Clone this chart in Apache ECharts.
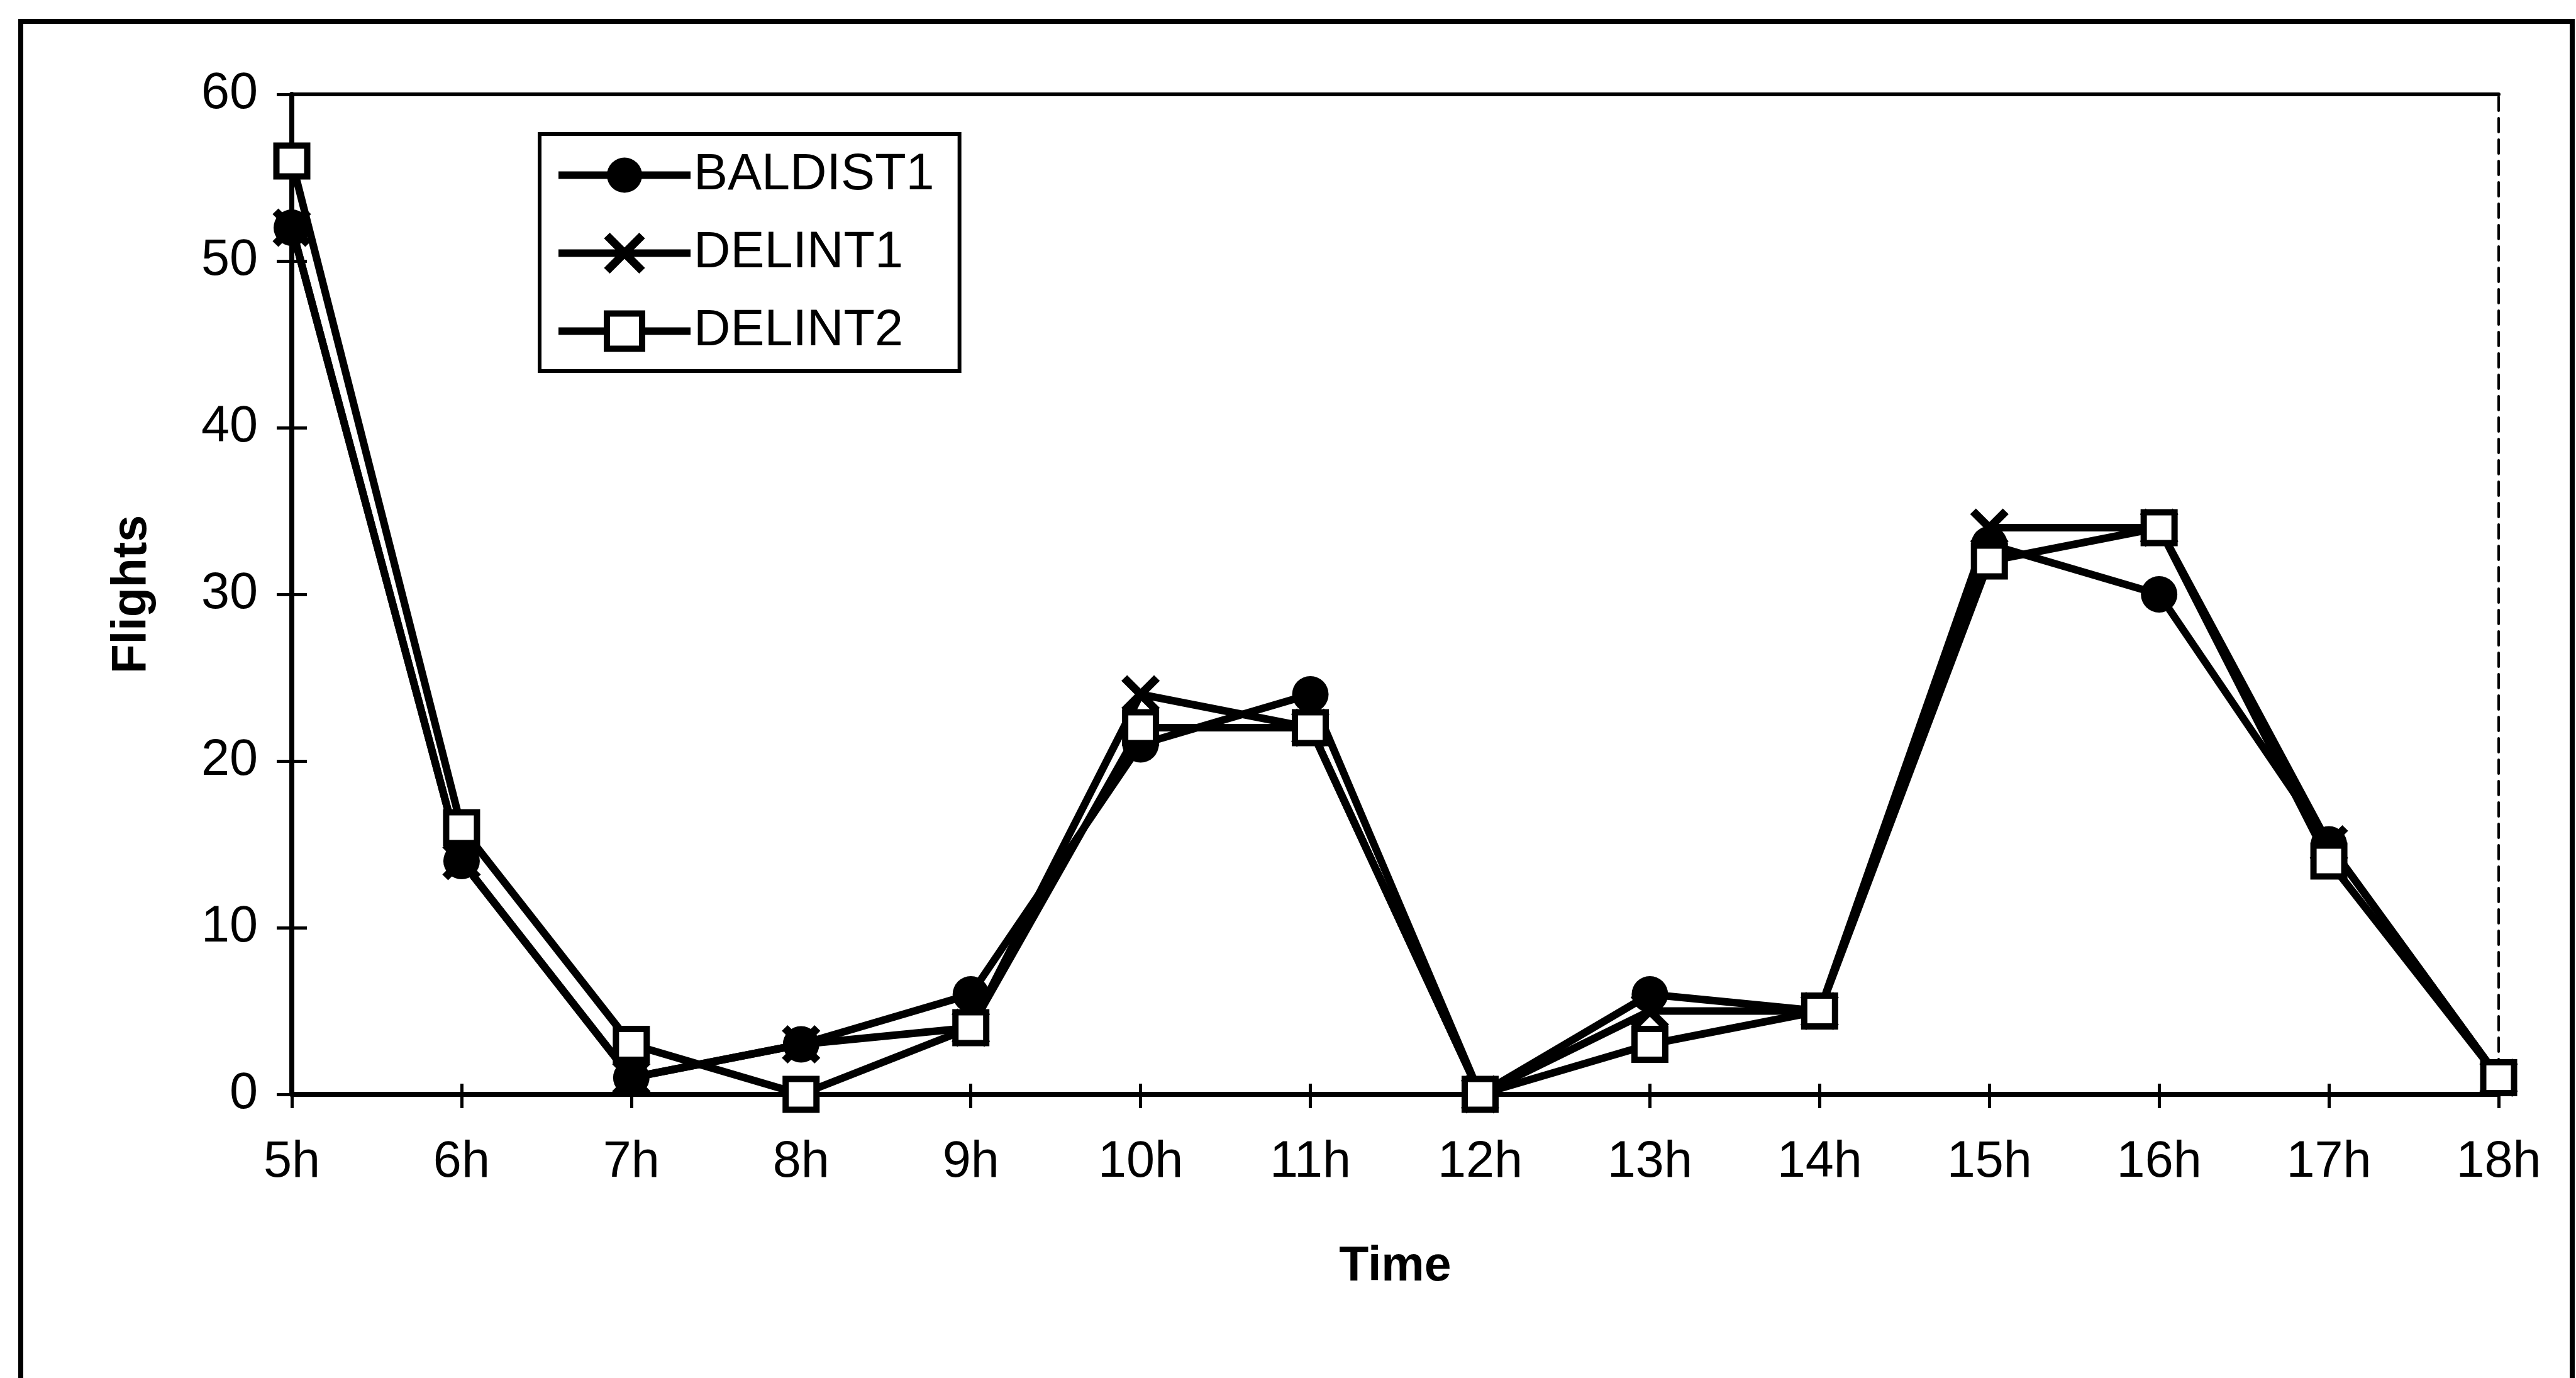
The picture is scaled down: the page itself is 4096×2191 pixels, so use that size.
<!DOCTYPE html>
<html>
<head>
<meta charset="utf-8">
<script src="https://cdn.jsdelivr.net/npm/echarts@6/dist/echarts.min.js"></script>
<style>
html,body{margin:0;padding:0;background:#fff;}
#c{width:4096px;height:2191px;}
</style>
</head>
<body>
<div id="c"></div>
<script>
const categories = ['5h','6h','7h','8h','9h','10h','11h','12h','13h','14h','15h','16h','17h','18h'];
const baldist1 = [52, 14, 1, 3, 6, 21, 24, 0, 6, 5, 33, 30, 15, 1];
const delint1  = [52, 14, 1, 3, 4, 24, 22, 0, 5, 5, 34, 34, 15, 1];
const delint2  = [56, 16, 3, 0, 4, 22, 22, 0, 3, 5, 32, 34, 14, 1];
const yTicks = [0, 10, 20, 30, 40, 50, 60];

const FONT = '"Liberation Sans", Arial, sans-serif';
const X_PATH = 'path://M0,0L10,10M10,0L0,10';

const chart = echarts.init(document.getElementById('c'), null, {renderer: 'canvas'});

const baseX = {
  type: 'category', data: categories, boundaryGap: false, gridIndex: 0
};
const baseY = {
  type: 'value', min: yTicks[0], max: yTicks[yTicks.length - 1],
  interval: yTicks[1] - yTicks[0], gridIndex: 0
};

const option = {
  backgroundColor: '#fff',
  animation: false,
  graphic: [{
    type: 'rect', z: -10, silent: true,
    shape: {x: 33, y: 34, width: 4057, height: 2300},
    style: {fill: 'none', stroke: '#000', lineWidth: 8}
  }],
  grid: {left: 464, right: 123, top: 150, bottom: 451, containLabel: false},
  legend: {
    orient: 'vertical', left: 858, top: 213,
    padding: [25, 40, 23, 24],
    itemWidth: 210, itemHeight: 70, itemGap: 43,
    borderColor: '#000', borderWidth: 6, backgroundColor: '#fff',
    textStyle: {fontSize: 81, color: '#000', fontFamily: FONT},
    lineStyle: {width: 12, color: '#000'},
    data: [
      {name: 'BALDIST1', itemStyle: {color: '#000', borderWidth: 0}, lineStyle: {width: 12, color: '#000'}},
      {name: 'DELINT1', itemStyle: {color: '#000', borderColor: '#000', borderWidth: 13}, lineStyle: {width: 12, color: '#000'}},
      {name: 'DELINT2', itemStyle: {color: '#fff', borderColor: '#000', borderWidth: 10}, lineStyle: {width: 12, color: '#000'}}
    ]
  },
  xAxis: [
    Object.assign({}, baseX, {
      position: 'bottom',
      name: 'Time', nameLocation: 'middle', nameGap: 236,
      nameTextStyle: {fontSize: 77, fontWeight: 'bold', color: '#000', fontFamily: FONT},
      axisLine: {show: true, onZero: false, lineStyle: {color: '#000', width: 8}},
      axisTick: {show: true, inside: false, length: 22, lineStyle: {color: '#000', width: 5}},
      axisLabel: {fontSize: 81, color: '#000', margin: 68, fontFamily: FONT, interval: 0},
      splitLine: {show: false}
    }),
    Object.assign({}, baseX, {
      position: 'bottom',
      axisLine: {show: false, onZero: false},
      axisTick: {show: true, inside: true, length: 17, lineStyle: {color: '#000', width: 5}},
      axisLabel: {show: false},
      splitLine: {show: false}
    }),
    Object.assign({}, baseX, {
      position: 'top',
      axisLine: {show: true, onZero: false, lineStyle: {color: '#000', width: 6}},
      axisTick: {show: false},
      axisLabel: {show: false},
      splitLine: {show: false}
    })
  ],
  yAxis: [
    Object.assign({}, baseY, {
      position: 'left',
      name: 'Flights', nameLocation: 'middle', nameGap: 215,
      nameTextStyle: {fontSize: 77, fontWeight: 'bold', color: '#000', fontFamily: FONT},
      axisLine: {show: true, onZero: false, lineStyle: {color: '#000', width: 8}},
      axisTick: {show: true, inside: false, length: 24, lineStyle: {color: '#000', width: 5}},
      axisLabel: {fontSize: 81, color: '#000', margin: 54, fontFamily: FONT},
      splitLine: {show: false}
    }),
    Object.assign({}, baseY, {
      position: 'left',
      axisLine: {show: false, onZero: false},
      axisTick: {show: true, inside: true, length: 24, lineStyle: {color: '#000', width: 5}},
      axisLabel: {show: false},
      splitLine: {show: false}
    }),
    Object.assign({}, baseY, {
      position: 'right',
      axisLine: {show: true, onZero: false, lineStyle: {color: '#000', width: 4, type: [22, 12]}},
      axisTick: {show: false},
      axisLabel: {show: false},
      splitLine: {show: false}
    })
  ],
  series: [
    {
      name: 'BALDIST1', type: 'line', data: baldist1, xAxisIndex: 0, yAxisIndex: 0,
      symbol: 'circle', symbolSize: 58, showAllSymbol: true,
      lineStyle: {color: '#000', width: 12},
      itemStyle: {color: '#000', borderWidth: 0},
      emphasis: {disabled: true}
    },
    {
      name: 'DELINT1', type: 'line', data: delint1, xAxisIndex: 0, yAxisIndex: 0,
      symbol: X_PATH, symbolSize: 52, showAllSymbol: true,
      lineStyle: {color: '#000', width: 12},
      itemStyle: {color: '#000', borderColor: '#000', borderWidth: 13},
      emphasis: {disabled: true}
    },
    {
      name: 'DELINT2', type: 'line', data: delint2, xAxisIndex: 0, yAxisIndex: 0,
      symbol: 'rect', symbolSize: 49, showAllSymbol: true,
      lineStyle: {color: '#000', width: 12},
      itemStyle: {color: '#fff', borderColor: '#000', borderWidth: 10},
      emphasis: {disabled: true}
    }
  ]
};
chart.setOption(option);
</script>
</body>
</html>
